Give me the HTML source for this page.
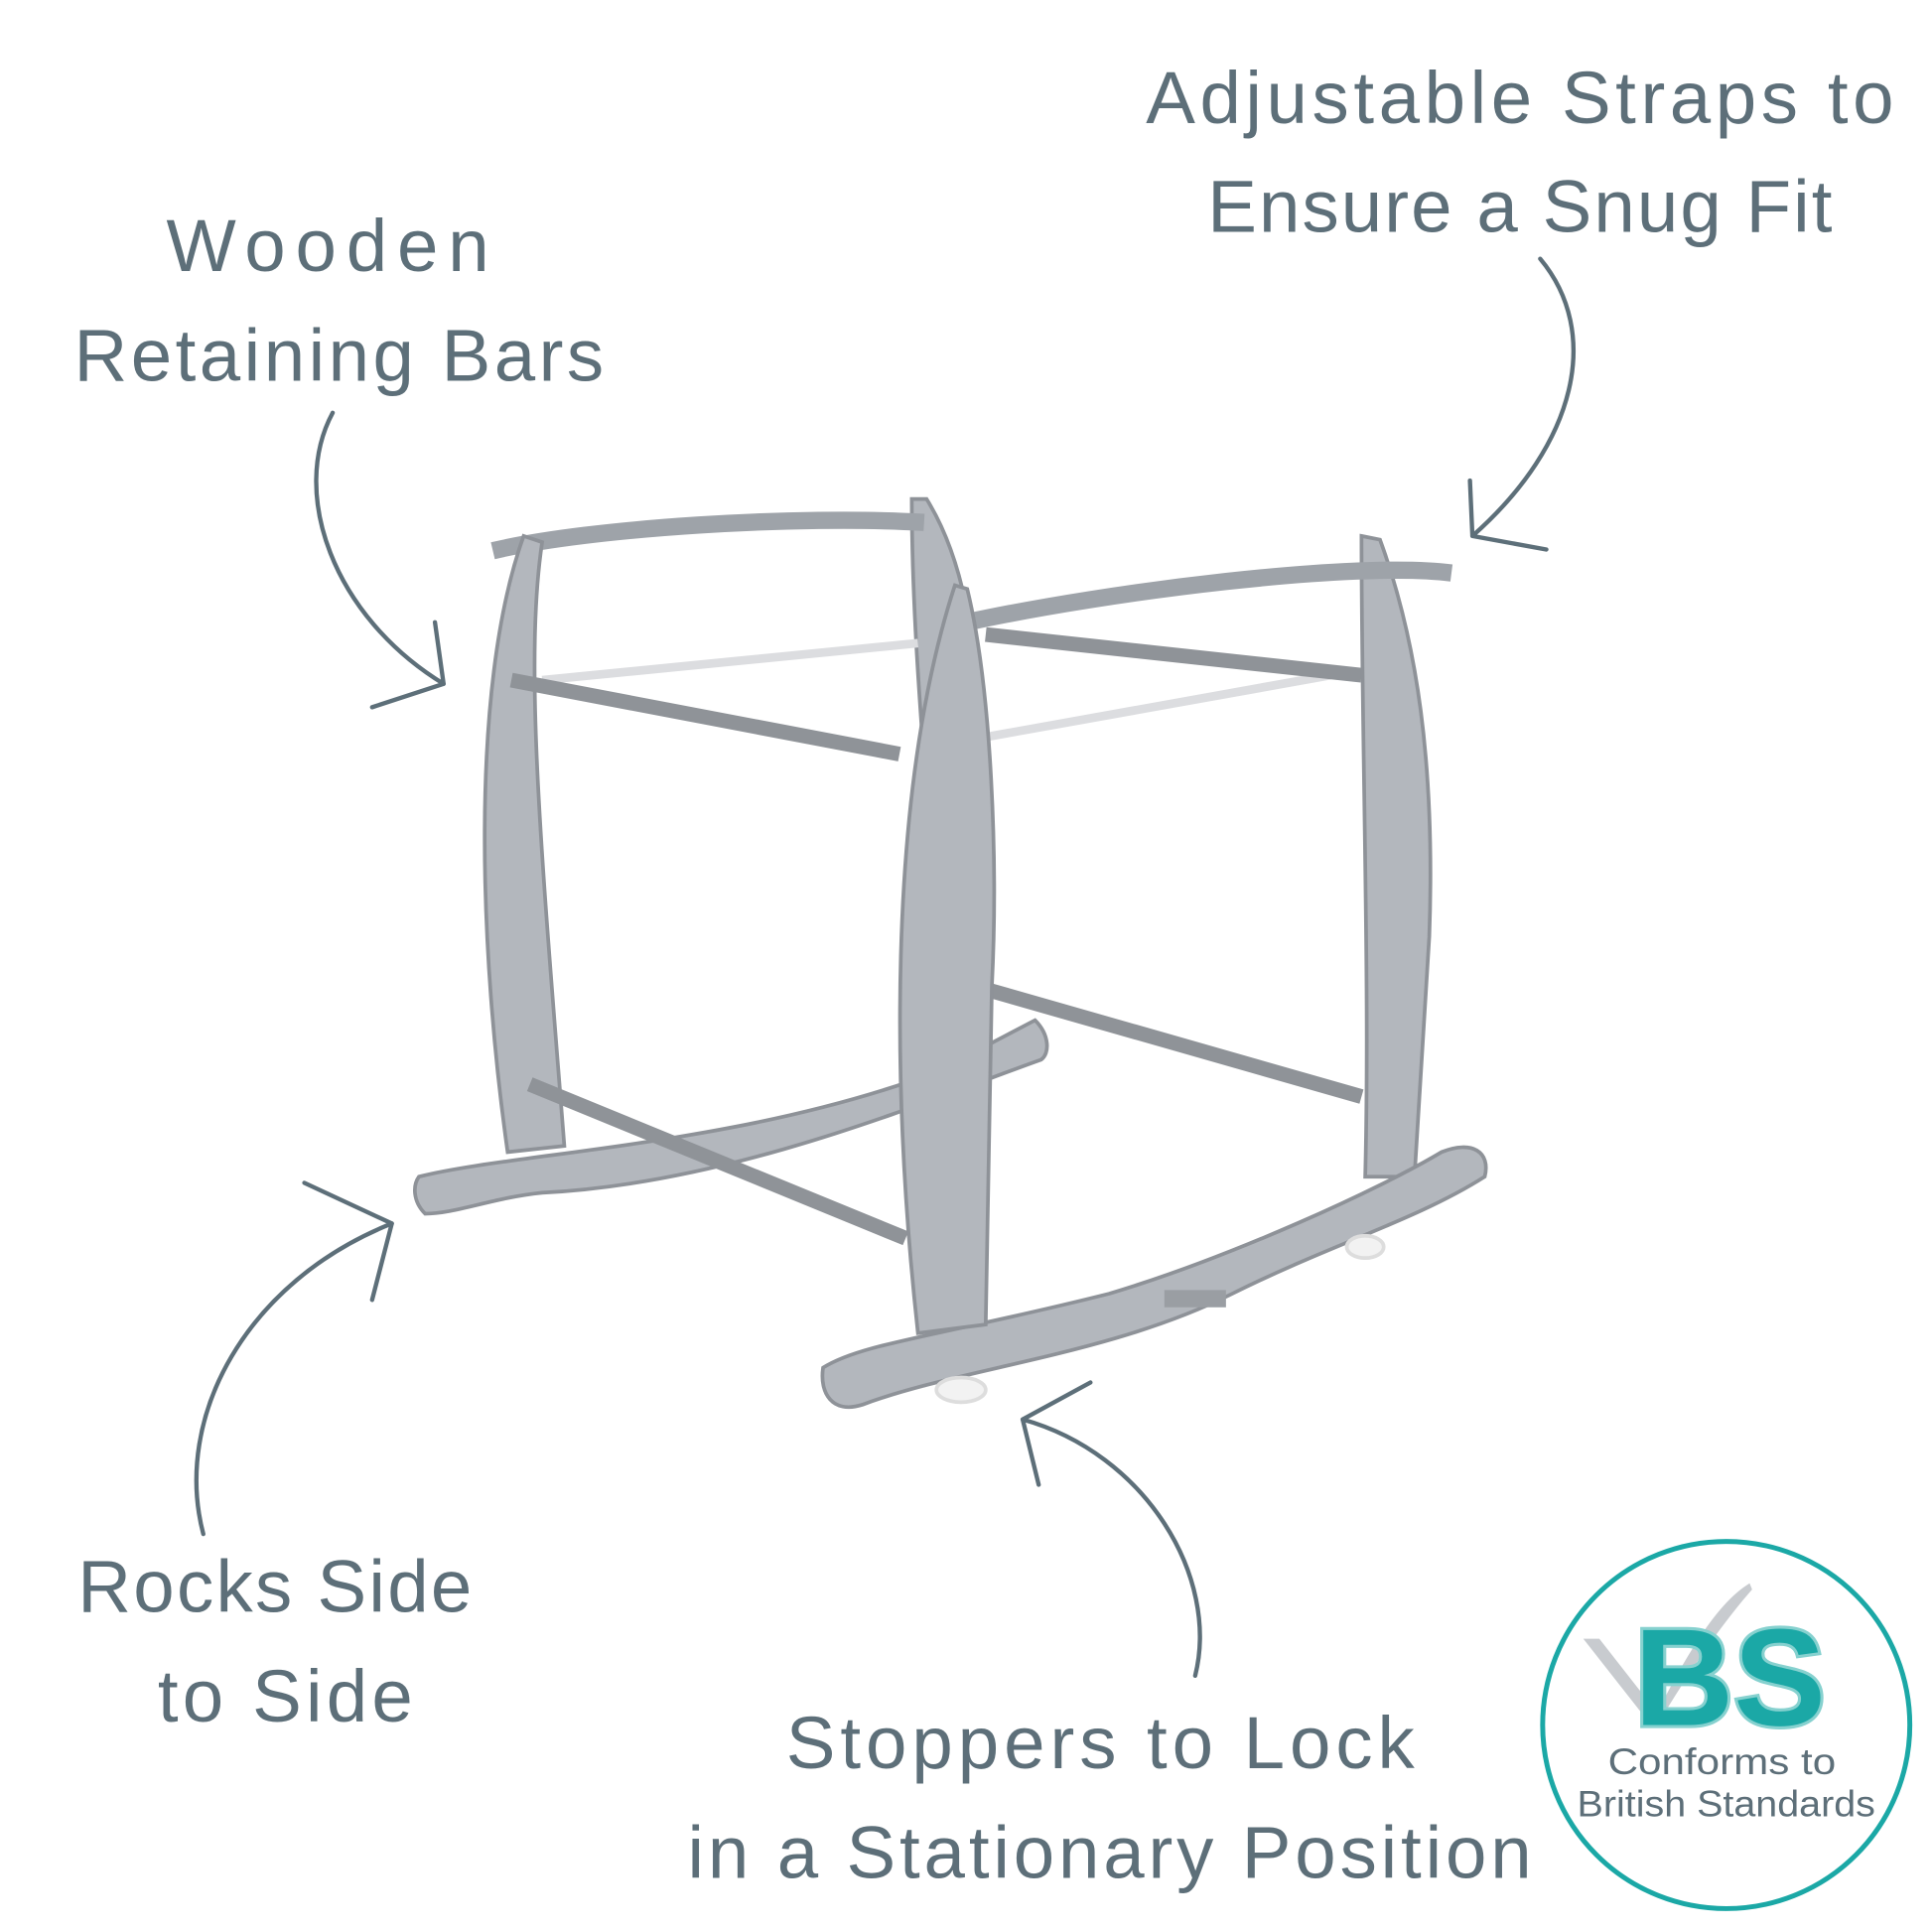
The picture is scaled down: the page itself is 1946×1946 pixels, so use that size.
<!DOCTYPE html>
<html><head><meta charset="utf-8"><style>
html,body{margin:0;padding:0;background:#fff;}
svg{display:block;}
text{font-family:"Liberation Sans",sans-serif;fill:#5d6f79;}
</style></head><body>
<svg width="1946" height="1946" viewBox="0 0 1568 1568" xmlns="http://www.w3.org/2000/svg">
<g font-size="60" lengthAdjust="spacingAndGlyphs">
<text x="930" y="100" textLength="607">Adjustable Straps to</text>
<text x="980" y="188" textLength="507">Ensure a Snug Fit</text>
<text x="135" y="220" textLength="262">Wooden</text>
<text x="60" y="309" textLength="430">Retaining Bars</text>
<text x="63" y="1308" textLength="320">Rocks Side</text>
<text x="128" y="1397" textLength="207">to Side</text>
<text x="638" y="1435" textLength="510">Stoppers to Lock</text>
<text x="558" y="1524" textLength="685">in a Stationary Position</text>
</g>
<!-- arrows -->
<g fill="none" stroke="#5d6f79" stroke-width="3.5" stroke-linecap="round">
<path d="M1250 210 C1300 270 1280 360 1195 435"/>
<path d="M1195 435 L1193 390 M1195 435 L1255 446"/>
<path d="M270 335 C235 400 270 500 360 555"/>
<path d="M360 555 L353 505 M360 555 L302 574"/>
<path d="M165 1245 C140 1150 200 1040 318 993"/>
<path d="M318 993 L247 960 M318 993 L302 1055"/>
<path d="M970 1360 C990 1280 930 1180 830 1152"/>
<path d="M830 1152 L885 1122 M830 1152 L843 1205"/>
</g>
<!-- stand -->
<g stroke="#8e9298" stroke-width="3" fill="#b3b7bd">
<path d="M740 405 L752 405 C780 450 795 520 792 600 L790 860 L765 860 C760 700 740 550 740 405Z"/>
<path d="M400 447 C480 428 650 418 750 424" fill="none" stroke="#9ea3a9" stroke-width="14"/>
<path d="M340 955 C420 935 600 930 760 870 L840 828 C852 840 852 855 845 860 C760 890 600 960 440 968 C400 972 370 985 345 985 C335 975 335 962 340 955Z"/>
<path d="M425 435 L440 440 C425 540 440 700 458 930 L412 935 C390 780 380 560 425 435Z"/>
<path d="M440 552 L745 522 M790 600 L1080 548" stroke="#dcdde0" stroke-width="7"/>
<path d="M415 552 L730 612 M800 515 L1105 548 M790 800 L1105 890 M430 880 L735 1005" stroke="#8f9398" stroke-width="12" fill="none"/>
<path d="M1105 435 L1120 438 C1150 520 1165 620 1160 760 L1148 955 L1108 955 C1112 800 1105 600 1105 435Z"/>
<path d="M785 505 C900 480 1100 455 1178 465" fill="none" stroke="#9ea3a9" stroke-width="14"/>
<path d="M668 1110 C700 1090 760 1085 900 1050 C1000 1020 1120 965 1170 935 C1195 925 1210 935 1205 955 C1150 990 1080 1010 1000 1050 C900 1100 780 1110 700 1140 C675 1148 665 1130 668 1110Z"/>
<path d="M775 475 L785 478 C805 560 810 700 805 800 L800 1075 L745 1082 C725 900 718 650 775 475Z"/>
<rect x="945" y="1047" width="50" height="14" fill="#9a9ea3" stroke="none"/>
<ellipse cx="780" cy="1128" rx="20" ry="10" fill="#f2f2f2" stroke="#ddd"/>
<ellipse cx="1108" cy="1012" rx="15" ry="9" fill="#f2f2f2" stroke="#ddd"/>
</g>
<!-- badge -->
<circle cx="1401" cy="1400" r="149" fill="#fff" stroke="#1ba8a6" stroke-width="4"/>
<path d="M1285 1330 L1298 1330 L1345 1390 C1370 1340 1395 1300 1420 1285 L1422 1290 C1400 1315 1375 1350 1345 1400 L1340 1400 Z" fill="#c8cbcf"/>
<text x="1404" y="1400" text-anchor="middle" font-size="112" font-weight="bold" style="fill:#1ba8a6;stroke:#86d1cf;stroke-width:5;paint-order:stroke">BS</text>
<text x="1305" y="1440" font-size="30" textLength="185" lengthAdjust="spacingAndGlyphs">Conforms to</text>
<text x="1280" y="1474" font-size="30" textLength="242" lengthAdjust="spacingAndGlyphs">British Standards</text>
</svg>
</body></html>
